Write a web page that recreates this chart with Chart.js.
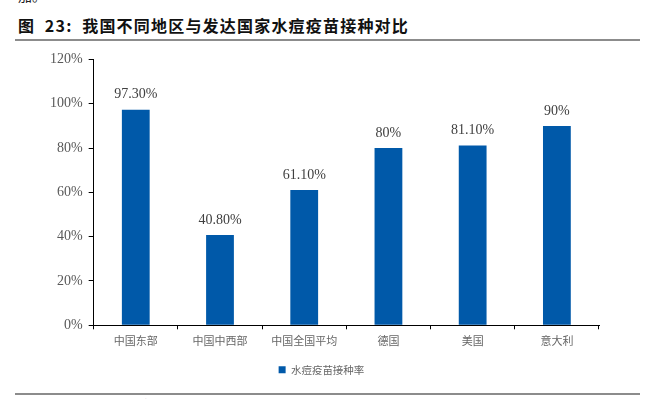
<!DOCTYPE html>
<html>
<head>
<meta charset="utf-8">
<script src="https://cdn.jsdelivr.net/npm/chart.js@4.4.1/dist/chart.umd.min.js"></script>
<style>
  body { margin: 0; width: 647px; height: 399px; background: #fff; overflow: hidden; position: relative; }
  .prev { position: absolute; left: 18px; top: -15px; font: 14px "Noto Sans CJK SC"; color: #222; }
  .title { position: absolute; left: 18px; top: 13px; font: bold 16px "Noto Sans CJK SC"; color: #111; letter-spacing: 1.2px; }
  .rule { position: absolute; left: 15px; width: 625px; height: 2px; background: #8c8c8c; }
  .src { position: absolute; left: 18px; top: 396px; font: 12px "Noto Sans CJK SC"; color: #555; }
  #wrap { position: absolute; left: 0; top: 45px; width: 647px; height: 340px; }
</style>
</head>
<body>
<div class="prev">加。</div>
<div class="title">图&nbsp; 23:&nbsp; 我国不同地区与发达国家水痘疫苗接种对比</div>
<div class="rule" style="top:39px"></div>
<div id="wrap"><canvas id="c"></canvas></div>
<div class="rule" style="top:393px"></div>
<div class="src">资料来源：中国疾病预防控制中心，安信证券研究中心</div>
<script>
// data
const regions = ['中国东部', '中国中西部', '中国全国平均', '德国', '美国', '意大利'];
const rates = [97.3, 40.8, 61.1, 80, 81.1, 90];
const rateLabels = ['97.30%', '40.80%', '61.10%', '80%', '81.10%', '90%'];
const seriesName = '水痘疫苗接种率';

const blue = '#0059A9';
const serif = '"Liberation Serif", "Times New Roman", serif';
const cjk = '"Noto Sans CJK SC", sans-serif';

// values above each bar
const barLabels = {
    id: 'barLabels',
    afterDatasetsDraw(chart) {
        const ctx = chart.ctx;
        const meta = chart.getDatasetMeta(0);
        ctx.save();
        ctx.font = '14px ' + serif;
        ctx.fillStyle = '#404040';
        ctx.textAlign = 'center';
        ctx.textBaseline = 'bottom';
        meta.data.forEach((bar, i) => {
            ctx.fillText(rateLabels[i], bar.x, bar.y - 8);
        });
        ctx.restore();
    }
};

new Chart(document.getElementById('c'), {
    type: 'bar',
    data: {
        labels: regions,
        datasets: [{
            label: seriesName,
            data: rates,
            backgroundColor: blue,
            categoryPercentage: 1,
            barPercentage: 0.33
        }]
    },
    options: {
        responsive: true,
        maintainAspectRatio: false,
        animation: false,
        layout: { padding: { left: 44, right: 48, top: 9, bottom: 0 } },
        plugins: {
            legend: {
                position: 'bottom',
                labels: {
                    boxWidth: 7, boxHeight: 7,
                    padding: 12,
                    color: '#666',
                    font: { family: cjk, size: 10.5 }
                }
            },
            tooltip: { enabled: false }
        },
        scales: {
            x: {
                grid: { display: true, drawOnChartArea: false, drawTicks: true, tickLength: 4, color: '#000', offset: true },
                border: { color: '#000', width: 1 },
                ticks: { color: '#666', font: { family: cjk, size: 11 }, padding: 5 }
            },
            y: {
                min: 0, max: 120,
                grid: { display: true, drawOnChartArea: false, drawTicks: true, tickLength: 5, color: '#000' },
                border: { color: '#000', width: 1 },
                ticks: {
                    stepSize: 20,
                    color: '#595959',
                    padding: 6,
                    font: { family: serif, size: 14 },
                    callback: v => v + '%'
                }
            }
        }
    },
    plugins: [barLabels]
});
</script>
</body>
</html>
